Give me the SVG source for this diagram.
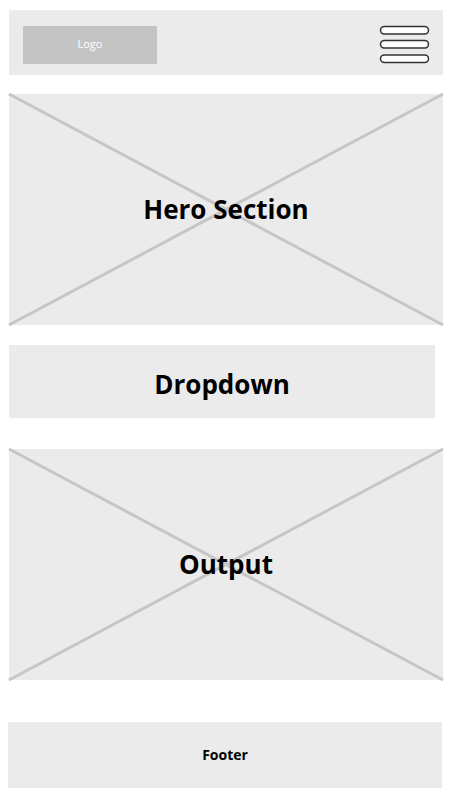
<svg xmlns="http://www.w3.org/2000/svg" width="450" height="800" viewBox="0 0 450 800">
<style>
.box{fill:#ebebeb}
.x{stroke:#c6c6c6;stroke-width:3;fill:none}
.t{font-family:"Open Sans","Noto Sans",sans-serif;font-weight:bold;fill:#000;text-anchor:middle}
.bar{fill:#fff;stroke:#333;stroke-width:1.5}
</style>
<rect width="450" height="800" fill="#fff"/>
<g id="header">
<rect class="box" x="9" y="10" width="434" height="65"/>
<g id="logo">
<rect x="23" y="26" width="134" height="38" fill="#c4c4c4"/>
<text x="90" y="48" font-family="'Open Sans','Noto Sans',sans-serif" font-size="11" fill="#fff" text-anchor="middle">Logo</text>
</g>
<g id="menu">
<rect class="bar" x="380.5" y="26.5" width="48" height="7.5" rx="3.75"/>
<rect class="bar" x="380.5" y="40.5" width="48" height="7.5" rx="3.75"/>
<rect class="bar" x="380.5" y="55" width="48" height="7.5" rx="3.75"/>
</g>
</g>
<g id="hero">
<rect class="box" x="9" y="94" width="434" height="231"/>
<path class="x" d="M9 94 L443 325 M443 94 L9 325"/>
<text class="t" x="226" y="219" font-size="26">Hero Section</text>
</g>
<g id="dropdown">
<rect class="box" x="9" y="345" width="426" height="73"/>
<text class="t" x="222" y="394" font-size="26">Dropdown</text>
</g>
<g id="output">
<rect class="box" x="9" y="449" width="434" height="231"/>
<path class="x" d="M9 449 L443 680 M443 449 L9 680"/>
<text class="t" x="226" y="574" font-size="26">Output</text>
</g>
<g id="footer">
<rect class="box" x="8" y="722" width="434" height="66"/>
<text class="t" x="225" y="760" font-size="14">Footer</text>
</g>
<g id="connectors"/>
</svg>
